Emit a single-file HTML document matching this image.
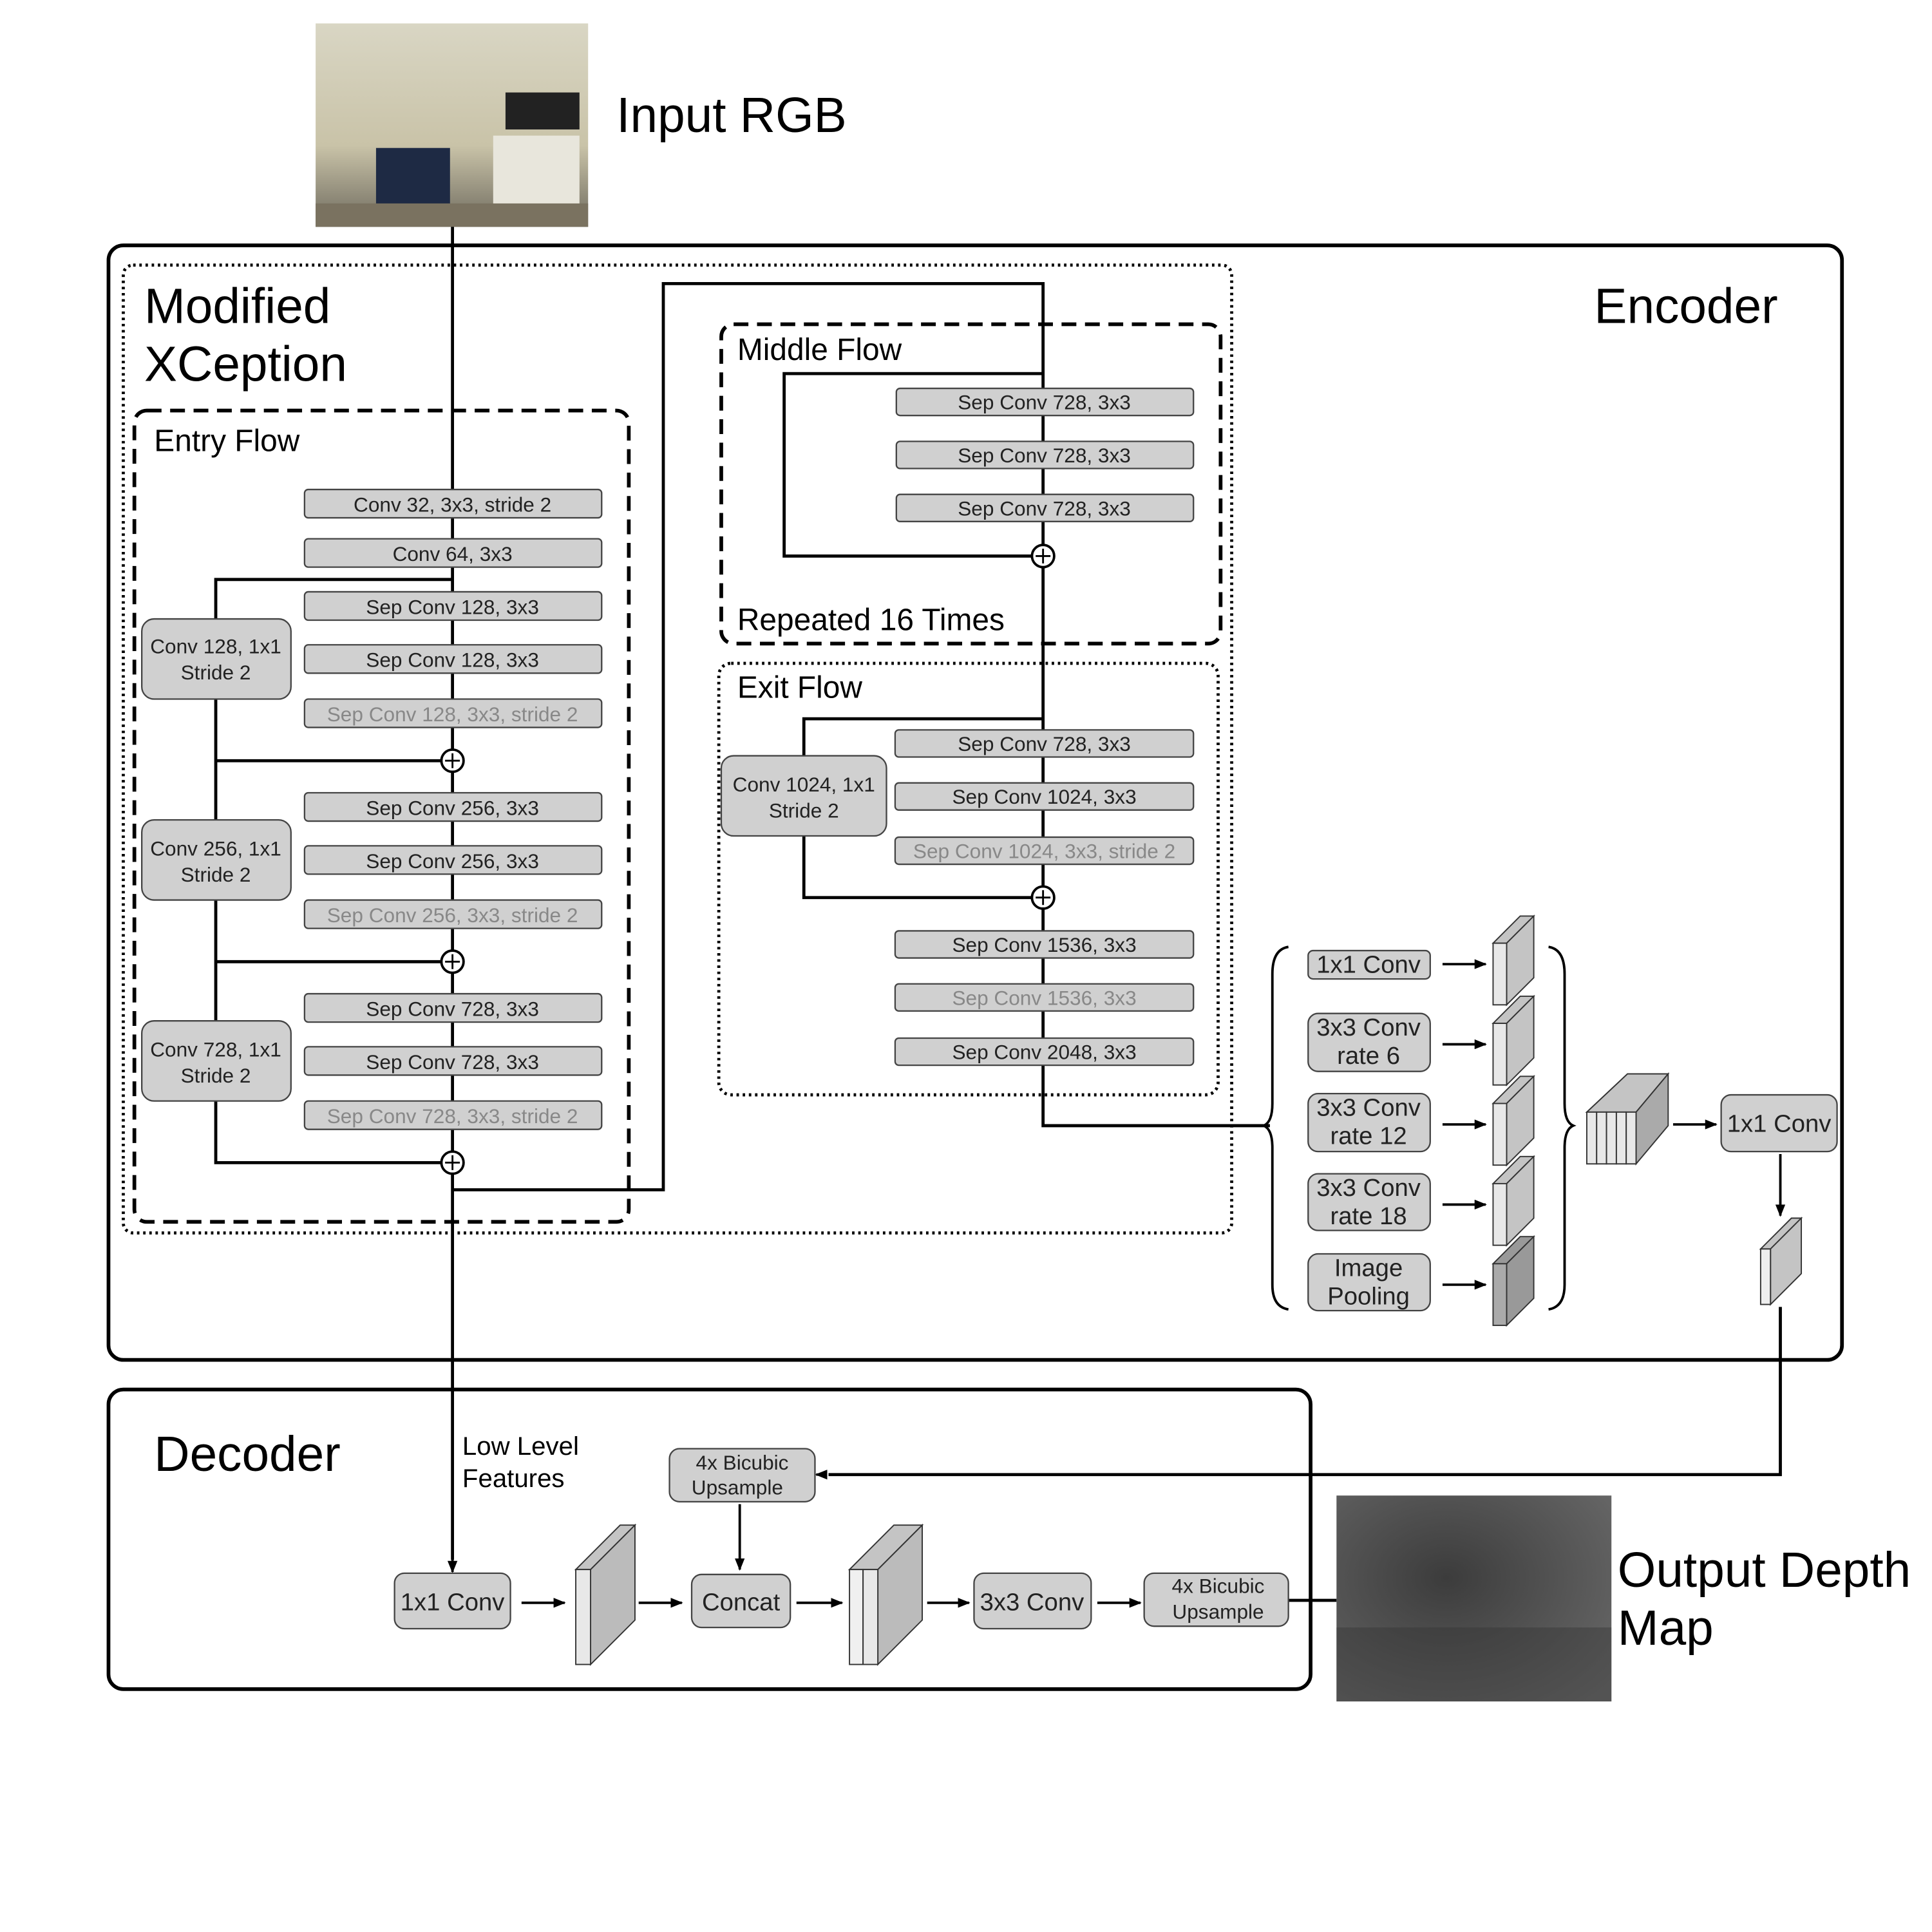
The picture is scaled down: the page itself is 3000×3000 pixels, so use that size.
<!DOCTYPE html>
<html><head><meta charset="utf-8"><style>
html,body{margin:0;padding:0;background:#fff;}
svg{display:block;}
text{font-family:"Liberation Sans",sans-serif;}
</style></head><body>
<svg width="3000" height="3000" viewBox="0 0 1567 1567" xmlns="http://www.w3.org/2000/svg">
<defs>
<marker id="ar" markerWidth="10" markerHeight="8" refX="9" refY="4" orient="auto" markerUnits="userSpaceOnUse"><path d="M0,0 L10,4 L0,8 z" fill="#000"/></marker>
<linearGradient id="room" x1="0" y1="0" x2="0" y2="1"><stop offset="0" stop-color="#d9d6c4"/><stop offset="0.6" stop-color="#c9c3a8"/><stop offset="1" stop-color="#6e6a5e"/></linearGradient>
<radialGradient id="depth" cx="0.4" cy="0.4" r="0.8"><stop offset="0" stop-color="#3c3c3c"/><stop offset="1" stop-color="#6a6a6a"/></radialGradient>
</defs>
<rect width="1567" height="1567" fill="#fff"/>
<rect x="256" y="19" width="221" height="165" fill="url(#room)"/>
<rect x="410" y="75" width="60" height="30" fill="#222"/>
<rect x="400" y="110" width="70" height="60" fill="#e8e6dc"/>
<rect x="305" y="120" width="60" height="55" fill="#1e2a44"/>
<rect x="256" y="165" width="221" height="19" fill="#7a7260"/>
<text x="500" y="107" font-size="40">Input RGB</text>
<rect x="88" y="199" width="1406" height="904" rx="12" fill="none" stroke="#000" stroke-width="3"/>
<text x="1293" y="262" font-size="40">Encoder</text>
<rect x="100" y="215" width="899" height="785" rx="8" fill="none" stroke="#000" stroke-width="2.5" stroke-dasharray="2 3"/>
<text x="117" y="262" font-size="40">Modified</text>
<text x="117" y="309" font-size="40">XCeption</text>
<rect x="109" y="333" width="401" height="658" rx="10" fill="none" stroke="#000" stroke-width="3" stroke-dasharray="12 7"/>
<text x="125" y="366" font-size="25">Entry Flow</text>
<rect x="585" y="263" width="405" height="259" rx="10" fill="none" stroke="#000" stroke-width="3" stroke-dasharray="12 7"/>
<text x="598" y="292" font-size="25">Middle Flow</text>
<text x="598" y="511" font-size="25">Repeated 16 Times</text>
<rect x="583" y="538" width="405" height="350" rx="10" fill="none" stroke="#000" stroke-width="2.5" stroke-dasharray="2 3"/>
<text x="598" y="566" font-size="25">Exit Flow</text>
<g fill="none" stroke="#000" stroke-width="2.5">
<path d="M367,184 V1265"/>
<path d="M367,470 H175 V943 H358"/>
<path d="M175,617 H358 M175,780 H358"/>
<path d="M367,965 H538 V230 H846 V913 H1030"/>
<path d="M846,303 H636 V451 H837"/>
<path d="M846,583 H652 V728 H837"/>
<path d="M1444,1060 V1196 H672"/>
<path d="M1045,1298 H1084"/>
</g>
<g stroke="#000" stroke-width="2" fill="none" marker-end="url(#ar)">
<path d="M367,1250 V1275"/>
<path d="M1170,782 H1205"/><path d="M1170,847 H1205"/><path d="M1170,912 H1205"/><path d="M1170,977 H1205"/><path d="M1170,1042 H1205"/>
<path d="M1357,912 H1392"/>
<path d="M1444,936 V986"/>
<path d="M670,1196 H662"/>
<path d="M600,1220 V1273"/>
<path d="M423,1300 H458"/><path d="M518,1300 H553"/><path d="M646,1300 H683"/><path d="M752,1300 H786"/><path d="M890,1300 H925"/>
</g>
<g fill="#fff" stroke="#000" stroke-width="2">
<circle cx="367" cy="617" r="9"/><circle cx="367" cy="780" r="9"/><circle cx="367" cy="943" r="9"/>
<circle cx="846" cy="451" r="9"/><circle cx="846" cy="728" r="9"/>
</g>
<g stroke="#000" stroke-width="1.5">
<path d="M361,617 H373 M367,611 V623 M361,780 H373 M367,774 V786 M361,943 H373 M367,937 V949 M840,451 H852 M846,445 V457 M840,728 H852 M846,722 V734"/>
</g>
<g fill="#d0d0d0" stroke="#444" stroke-width="1.2">
<rect x="247" y="397" width="241" height="23" rx="3"/><rect x="247" y="437" width="241" height="23" rx="3"/>
<rect x="247" y="480" width="241" height="23" rx="3"/><rect x="247" y="523" width="241" height="23" rx="3"/><rect x="247" y="567" width="241" height="23" rx="3"/>
<rect x="247" y="643" width="241" height="23" rx="3"/><rect x="247" y="686" width="241" height="23" rx="3"/><rect x="247" y="730" width="241" height="23" rx="3"/>
<rect x="247" y="806" width="241" height="23" rx="3"/><rect x="247" y="849" width="241" height="23" rx="3"/><rect x="247" y="893" width="241" height="23" rx="3"/>
<rect x="115" y="502" width="121" height="65" rx="10"/><rect x="115" y="665" width="121" height="65" rx="10"/><rect x="115" y="828" width="121" height="65" rx="10"/>
<rect x="727" y="315" width="241" height="22" rx="3"/><rect x="727" y="358" width="241" height="22" rx="3"/><rect x="727" y="401" width="241" height="22" rx="3"/>
<rect x="585" y="613" width="134" height="65" rx="10"/>
<rect x="726" y="592" width="242" height="22" rx="3"/><rect x="726" y="635" width="242" height="22" rx="3"/><rect x="726" y="679" width="242" height="22" rx="3"/>
<rect x="726" y="755" width="242" height="22" rx="3"/><rect x="726" y="798" width="242" height="22" rx="3"/><rect x="726" y="842" width="242" height="22" rx="3"/>
<rect x="1061" y="771" width="99" height="23" rx="4"/><rect x="1061" y="822" width="99" height="47" rx="8"/><rect x="1061" y="887" width="99" height="47" rx="8"/><rect x="1061" y="952" width="99" height="46" rx="8"/><rect x="1061" y="1017" width="99" height="46" rx="8"/>
<rect x="1396" y="888" width="94" height="46" rx="8"/>
<rect x="543" y="1175" width="118" height="43" rx="8"/>
<rect x="320" y="1276" width="94" height="45" rx="8"/><rect x="561" y="1277" width="80" height="43" rx="8"/><rect x="790" y="1276" width="95" height="45" rx="8"/><rect x="928" y="1276" width="117" height="43" rx="8"/>
</g>
<g font-size="16.5" text-anchor="middle" fill="#222">
<text x="367" y="415">Conv 32, 3x3, stride 2</text><text x="367" y="455">Conv 64, 3x3</text>
<text x="367" y="498">Sep Conv 128, 3x3</text><text x="367" y="541">Sep Conv 128, 3x3</text>
<text x="367" y="661">Sep Conv 256, 3x3</text><text x="367" y="704">Sep Conv 256, 3x3</text>
<text x="367" y="824">Sep Conv 728, 3x3</text><text x="367" y="867">Sep Conv 728, 3x3</text>
<text x="175" y="530">Conv 128, 1x1</text><text x="175" y="551">Stride 2</text>
<text x="175" y="694">Conv 256, 1x1</text><text x="175" y="715">Stride 2</text>
<text x="175" y="857">Conv 728, 1x1</text><text x="175" y="878">Stride 2</text>
<text x="847" y="332">Sep Conv 728, 3x3</text><text x="847" y="375">Sep Conv 728, 3x3</text><text x="847" y="418">Sep Conv 728, 3x3</text>
<text x="652" y="642">Conv 1024, 1x1</text><text x="652" y="663">Stride 2</text>
<text x="847" y="609">Sep Conv 728, 3x3</text><text x="847" y="652">Sep Conv 1024, 3x3</text>
<text x="847" y="772">Sep Conv 1536, 3x3</text><text x="847" y="859">Sep Conv 2048, 3x3</text>
<text x="602" y="1192">4x Bicubic</text><text x="598" y="1212">Upsample</text>
<text x="988" y="1292">4x Bicubic</text><text x="988" y="1313">Upsample</text>
</g>
<g font-size="16.5" text-anchor="middle" fill="#888">
<text x="367" y="585">Sep Conv 128, 3x3, stride 2</text><text x="367" y="748">Sep Conv 256, 3x3, stride 2</text><text x="367" y="911">Sep Conv 728, 3x3, stride 2</text>
<text x="847" y="696">Sep Conv 1024, 3x3, stride 2</text><text x="847" y="815">Sep Conv 1536, 3x3</text>
</g>
<g font-size="20" text-anchor="middle" fill="#222">
<text x="1110" y="789">1x1 Conv</text>
<text x="1110" y="840">3x3 Conv</text><text x="1110" y="863">rate 6</text>
<text x="1110" y="905">3x3 Conv</text><text x="1110" y="928">rate 12</text>
<text x="1110" y="970">3x3 Conv</text><text x="1110" y="993">rate 18</text>
<text x="1110" y="1035">Image</text><text x="1110" y="1058">Pooling</text>
<text x="1443" y="918">1x1 Conv</text>
<text x="367" y="1306">1x1 Conv</text><text x="601" y="1306">Concat</text><text x="837" y="1306">3x3 Conv</text>
</g>
<g fill="none" stroke="#000" stroke-width="2">
<path d="M1045,768 Q1032,770 1032,790 V895 Q1032,910 1025,913 Q1032,916 1032,931 V1042 Q1032,1060 1045,1062"/>
<path d="M1256,768 Q1269,770 1269,790 V895 Q1269,910 1276,913 Q1269,916 1269,931 V1042 Q1269,1060 1256,1062"/>
</g>
<g stroke="#333" stroke-width="1">
<g fill="#c4c4c4">
<path d="M1211,765 L1233,743 L1244,743 L1222,765Z"/><path d="M1222,765 L1244,743 L1244,793 L1222,815Z"/><rect x="1211" y="765" width="11" height="50" fill="#e8e8e8"/>
<path d="M1211,830 L1233,808 L1244,808 L1222,830Z"/><path d="M1222,830 L1244,808 L1244,858 L1222,880Z"/><rect x="1211" y="830" width="11" height="50" fill="#e8e8e8"/>
<path d="M1211,895 L1233,873 L1244,873 L1222,895Z"/><path d="M1222,895 L1244,873 L1244,923 L1222,945Z"/><rect x="1211" y="895" width="11" height="50" fill="#e8e8e8"/>
<path d="M1211,960 L1233,938 L1244,938 L1222,960Z"/><path d="M1222,960 L1244,938 L1244,988 L1222,1010Z"/><rect x="1211" y="960" width="11" height="50" fill="#e8e8e8"/>
<path d="M1211,1025 L1233,1003 L1244,1003 L1222,1025Z" fill="#999"/><path d="M1222,1025 L1244,1003 L1244,1053 L1222,1075Z" fill="#999"/><rect x="1211" y="1025" width="11" height="50" fill="#aaa"/>
<path d="M1287,902 L1320,871 L1353,871 L1327,902Z"/><path d="M1327,902 L1353,871 L1353,913 L1327,944Z" fill="#aaa"/>
<rect x="1287" y="902" width="8" height="42" fill="#e8e8e8"/><rect x="1295" y="902" width="8" height="42" fill="#e8e8e8"/><rect x="1303" y="902" width="8" height="42" fill="#e8e8e8"/><rect x="1311" y="902" width="8" height="42" fill="#e8e8e8"/><rect x="1319" y="902" width="8" height="42" fill="#e8e8e8"/>
<path d="M1428,1013 L1453,988 L1461,988 L1436,1013Z"/><path d="M1436,1013 L1461,988 L1461,1033 L1436,1058Z"/><rect x="1428" y="1013" width="8" height="45" fill="#eee"/>
<path d="M467,1273 L503,1237 L515,1237 L479,1273Z"/><path d="M479,1273 L515,1237 L515,1314 L479,1350Z" fill="#bbb"/><rect x="467" y="1273" width="12" height="77" fill="#e8e8e8"/>
<path d="M689,1273 L725,1237 L748,1237 L712,1273Z"/><path d="M712,1273 L748,1237 L748,1314 L712,1350Z" fill="#bbb"/><rect x="689" y="1273" width="11" height="77" fill="#f0f0f0"/><rect x="700" y="1273" width="12" height="77" fill="#e8e8e8"/>
</g></g>
<rect x="88" y="1127" width="975" height="243" rx="12" fill="none" stroke="#000" stroke-width="3"/>
<text x="125" y="1193" font-size="40">Decoder</text>
<text x="375" y="1180" font-size="21">Low Level</text>
<text x="375" y="1206" font-size="21">Features</text>
<rect x="1084" y="1213" width="223" height="167" fill="url(#depth)"/>
<rect x="1084" y="1320" width="223" height="60" fill="#333" opacity="0.4"/>
<text x="1312" y="1287" font-size="40">Output Depth</text>
<text x="1312" y="1334" font-size="40">Map</text>
</svg>
</body></html>
